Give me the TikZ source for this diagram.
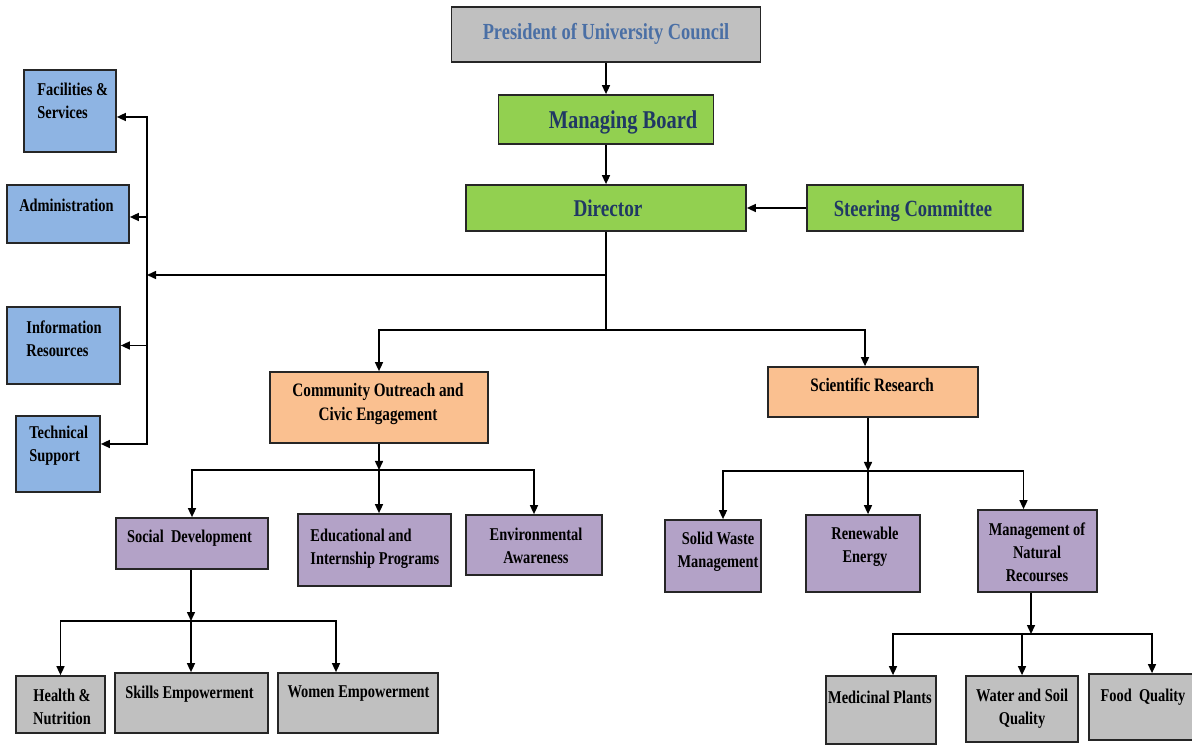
\documentclass[tikz,border=0pt]{standalone}
\usepackage{fontspec}
\setmainfont{Liberation Serif}[FakeStretch=0.8]
\usetikzlibrary{arrows.meta}

\definecolor{boxgrey}{HTML}{C0C0C0}
\definecolor{boxgreen}{HTML}{92D050}
\definecolor{boxblue}{HTML}{8EB4E3}
\definecolor{boxorange}{HTML}{FAC090}
\definecolor{boxpurple}{HTML}{B3A2C7}
\definecolor{titleblue}{HTML}{4A6FA5}
\definecolor{navy}{HTML}{203864}

\tikzset{
  box/.style={draw=black!85, line width=0.85pt, inner sep=0pt},
  sz/.style 2 args={minimum width=#1*0.5pt, minimum height=#2*0.5pt},
  greybox/.style={box, fill=boxgrey},
  greenbox/.style={box, fill=boxgreen},
  bluebox/.style={box, fill=boxblue},
  orangebox/.style={box, fill=boxorange},
  purplebox/.style={box, fill=boxpurple},
  txt/.style={inner sep=0pt, align=center, font=\bfseries\fontsize{9}{11.5}\selectfont},
  midtxt/.style={txt, font=\bfseries\fontsize{9.5}{12}\selectfont},
  bigtxt/.style={txt, text=navy, text height=0.7em, text depth=0.2em, font=\bfseries\fontsize{12}{14}\selectfont},
  ttltxt/.style={txt, text=titleblue, text height=0.7em, text depth=0.2em, font=\bfseries\fontsize{11.5}{14}\selectfont},
  line/.style={line width=0.75pt},
  arr/.style={line, -{Triangle[length=4.5pt,width=4pt]}},
}

\begin{document}
\begin{tikzpicture}[x=0.5pt, y=-0.5pt]
  \useasboundingbox (0,0) rectangle (1192,747);

  % Cuadros superiores
  \node[greybox, sz={309}{55}] (pres) at (606,34.5) {};
  \node[greenbox, sz={215}{49}] (mb) at (606,119.5) {};
  \node[greenbox, sz={280}{46}] (dir) at (606,208) {};
  \node[greenbox, sz={216}{46}] (steer) at (915,208) {};

  % Servicios a la izquierda
  \node[bluebox, sz={92}{82}] (fac) at (70,111) {};
  \node[bluebox, sz={122}{58}] (adm) at (68,214) {};
  \node[bluebox, sz={113}{77}] (info) at (63.5,345.5) {};
  \node[bluebox, sz={84}{76}] (tech) at (58,454) {};

  % Dos ramas
  \node[orangebox, sz={218}{71}] (coe) at (379,407.5) {};
  \node[orangebox, sz={210}{50}] (sr) at (873,392) {};

  \node[purplebox, sz={152}{51}] (sd) at (192,543.5) {};
  \node[purplebox, sz={153}{72}] (eip) at (374.5,550) {};
  \node[purplebox, sz={136}{60}] (env) at (534,545) {};
  \node[purplebox, sz={96}{72}] (sw) at (713,556) {};
  \node[purplebox, sz={114}{77}] (re) at (863,553.5) {};
  \node[purplebox, sz={119}{82}] (mnr) at (1037.5,551) {};

  % Fila inferior
  \node[greybox, sz={89}{57}] (he) at (60.5,704.5) {};
  \node[greybox, sz={153}{60}] (se) at (191.5,703) {};
  \node[greybox, sz={160}{60}] (we) at (358,703) {};
  \node[greybox, sz={110}{68}] (mp) at (881,710) {};
  \node[greybox, sz={112}{66}] (ws) at (1022,709) {};
  \node[greybox, sz={106}{66}] (fq) at (1142,707) {};

  % Textos
  \node[ttltxt] (presT) at (606,35) {President of University Council};
  \node[bigtxt, font=\bfseries\fontsize{12.8}{15}\selectfont] (mbT) at (623,124) {Managing Board};
  \node[bigtxt] (dirT) at (608,212) {Director};
  \node[bigtxt, font=\bfseries\fontsize{11.6}{14}\selectfont] (steerT) at (913,212) {Steering Committee};
  \node[txt, anchor=west, align=left] (facT) at (37,101) {Facilities \&\\Services};
  \node[txt] (admT) at (66.5,205) {Administration};
  \node[txt, anchor=west, align=left] (infoT) at (26,339) {Information\\Resources};
  \node[txt, anchor=west, align=left] (techT) at (29,446) {Technical\\Support};
  \node[midtxt] (coeT) at (378,404) {Community Outreach and\\Civic Engagement};
  \node[midtxt] (srT) at (872,385) {Scientific Research};
  \node[txt] (sdT) at (189.5,538) {Social\ \ Development};
  \node[txt, anchor=west, align=left] (eipT) at (310,549) {Educational and\\Internship Programs};
  \node[txt] (envT) at (536,546) {Environmental\\Awareness};
  \node[txt] (swT) at (718,552) {Solid Waste\\Management};
  \node[txt] (reT) at (865,547) {Renewable\\Energy};
  \node[txt] (mnrT) at (1037,552) {Management of\\Natural\\Recourses};
  \node[txt] (heT) at (62,707) {Health \&\\Nutrition};
  \node[txt] (seT) at (189.5,694) {Skills Empowerment};
  \node[txt] (weT) at (358.5,694) {Women Empowerment};
  \node[txt] (mpT) at (880,697) {Medicinal Plants};
  \node[txt] (wsT) at (1022,709) {Water and Soil\\Quality};
  \node[txt] (fqT) at (1143,697) {Food\ \ Quality};

  % Puntos de ramificacion
  \coordinate (ljoin) at (147,275);
  \coordinate (djoin) at (606,330);
  \coordinate (cbus) at (379,470);
  \coordinate (sbus) at (868,471);
  \coordinate (dbus) at (191,621);
  \coordinate (mbus) at (1031,634);

  % Conectores
  \draw[arr] (pres) -- (pres |- mb.north);
  \draw[arr] (mb) -- (mb |- dir.north);
  \draw[arr] (steer) -- (dir);
  \draw[line] (dir) -- (djoin);
  \draw[arr] (ljoin -| djoin) -- (ljoin);
  \draw[arr] (ljoin) |- ([yshift=-3pt]fac.east);
  \draw[arr] (ljoin) |- ([yshift=-1.5pt]adm.east);
  \draw[arr] (ljoin) |- (info.east);
  \draw[arr] (ljoin) |- ([yshift=5pt]tech.east);
  \draw[arr] (djoin) -| (coe);
  \draw[arr] (djoin) -| ([xshift=-4pt]sr.north);

  \draw[arr] (coe) -- (cbus);
  \draw[arr] (cbus) -| (sd);
  \draw[arr] (cbus) -- (cbus |- eip.north);
  \draw[arr] (cbus) -| (env);

  \draw[arr] (sbus |- sr.south) -- (sbus);
  \draw[arr] (sbus) -| ([xshift=5pt]sw.north);
  \draw[arr] (sbus) -- (sbus |- re.north);
  \draw[arr] (sbus) -| ([xshift=-7pt]mnr.north);

  \draw[arr] (dbus |- sd.south) -- (dbus);
  \draw[arr] (dbus) -| (he);
  \draw[arr] (dbus) -- (dbus |- se.north);
  \draw[arr] (dbus) -| ([xshift=-11pt]we.north);

  \draw[arr] (mbus |- mnr.south) -- (mbus);
  \draw[arr] (mbus) -| ([xshift=6pt]mp.north);
  \draw[arr] (mbus) -| (ws);
  \draw[arr] (mbus) -| ([xshift=5pt]fq.north);
\end{tikzpicture}
\end{document}
